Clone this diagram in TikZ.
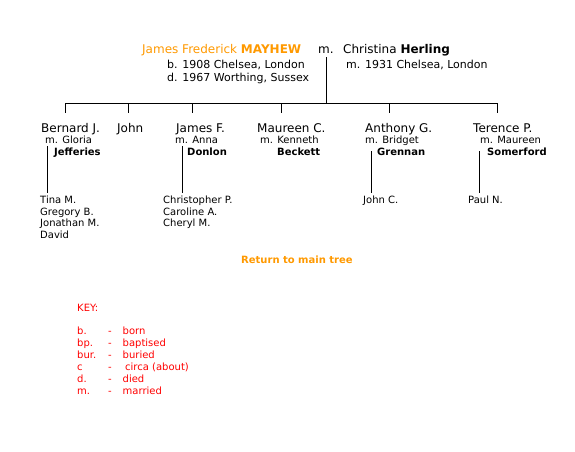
\documentclass[tikz,border=0pt]{standalone}
\usepackage{fontspec}
\setmainfont{DejaVu Sans}
\definecolor{orng}{HTML}{FF9900}
\definecolor{keyred}{HTML}{FF0000}
\begin{document}
\begin{tikzpicture}[x=1pt,y=-1pt,
  txt/.style={inner sep=0pt,anchor=base west},
  big/.style={txt,font=\fontsize{12}{14}\selectfont},
  mid/.style={txt,font=\fontsize{11}{13}\selectfont},
  sml/.style={txt,font=\fontsize{10}{12}\selectfont},
  kid/.style={txt,font=\fontsize{10}{12}\selectfont},
  keyt/.style={txt,font=\fontsize{10}{12}\selectfont,text=keyred},
  ln/.style={line width=0.8pt}]
\useasboundingbox (0,0) rectangle (575,451);
% parents
\node[big,text=orng] (jfm) at (142,53) {James Frederick \textbf{MAYHEW}};
\node[big] (m0) at (318,53) {m.};
\node[big] (ch) at (343,53) {Christina \textbf{Herling}};
\node[mid] (b0) at (167,68) {b. 1908 Chelsea, London};
\node[mid] (d0) at (167,81) {d. 1967 Worthing, Sussex};
\node[mid] (m1) at (346,68) {m. 1931 Chelsea, London};
% tree lines
\coordinate (top) at (326.5,57);
\coordinate (bar) at (326.5,103);
\coordinate (bl) at (65.5,103);
\coordinate (br) at (497,103);
\draw[ln] (top) -- (bar);
\draw[ln] (bl) -- (br);
\foreach \x/\n in {65.5/c1,128/c2,192/c3,281.5/c4,389/c5,497/c6}{
  \coordinate (\n t) at (\x,103);
  \coordinate (\n b) at (\x,113);
  \draw[ln] (\n t) -- (\n b);
}
% children
\node[big] (bj) at (41,132) {Bernard J.};
\node[big] (jo) at (117,132) {John};
\node[big] (jf) at (176,132) {James F.};
\node[big] (mc) at (257,132) {Maureen C.};
\node[big] (ag) at (365,132) {Anthony G.};
\node[big] (tp) at (473,132) {Terence P.};
\node[sml] (s1) at (45,143.5) {m. Gloria};
\node[sml] (s1b) at (54,155.5) {\textbf{Jefferies}};
\node[sml] (s3) at (175,143.5) {m. Anna};
\node[sml] (s3b) at (187,155.5) {\textbf{Donlon}};
\node[sml] (s4) at (260,143.5) {m. Kenneth};
\node[sml] (s4b) at (277,155.5) {\textbf{Beckett}};
\node[sml] (s5) at (365,143.5) {m. Bridget};
\node[sml] (s5b) at (377,155.5) {\textbf{Grennan}};
\node[sml] (s6) at (480,143.5) {m. Maureen};
\node[sml] (s6b) at (487,155.5) {\textbf{Somerford}};
% grandchildren lines
\foreach \x/\n/\y in {47/g1/146,182.5/g3/146,371/g5/151,479/g6/151}{
  \coordinate (\n t) at (\x,\y);
  \coordinate (\n b) at (\x,193);
  \draw[ln] (\n t) -- (\n b);
}
\node[kid] (k1a) at (40,203) {Tina M.};
\node[kid] (k1b) at (40,215) {Gregory B.};
\node[kid] (k1c) at (40,226.7) {Jonathan M.};
\node[kid] (k1d) at (40,238.3) {David};
\node[kid] (k3a) at (163,203) {Christopher P.};
\node[kid] (k3b) at (163,215) {Caroline A.};
\node[kid] (k3c) at (163,226.7) {Cheryl M.};
\node[kid] (k5) at (363,203) {John C.};
\node[kid] (k6) at (468,203) {Paul N.};
% return
\node[txt,font=\fontsize{10}{12}\selectfont\bfseries,text=orng] (ret) at (241,263) {Return to main tree};
% key
\node[keyt] (key) at (77,311) {KEY:};
\foreach \a/\b/\yy/\bx in {b./born/334/122.5,bp./baptised/346/122.5,bur./buried/358/122.5,c/circa (about)/370/125,d./died/382/122.5,m./married/394/122.5}{
  \node[keyt] at (77,\yy) {\a};
  \node[keyt] at (108,\yy) {-};
  \node[keyt] at (\bx,\yy) {\b};
}
\end{tikzpicture}
\end{document}
